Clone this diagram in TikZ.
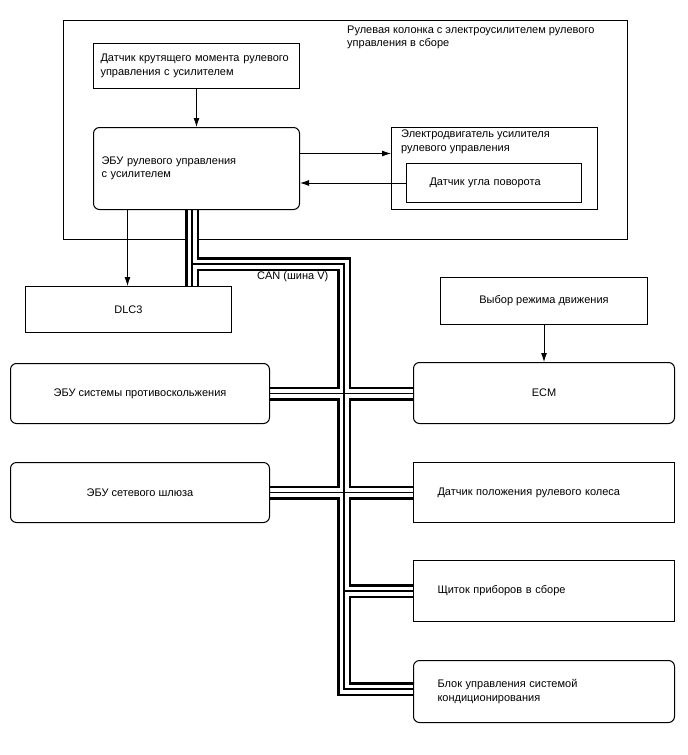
\documentclass[tikz,border=0pt]{standalone}
\usepackage{fontspec}
\setmainfont{Liberation Sans}
\usetikzlibrary{arrows.meta,backgrounds}

\tikzset{
  unit/.style={draw, line width=1pt, fill=white, inner sep=0pt, anchor=north west},
  ecubox/.style={unit, rounded corners=6pt},
  sig/.style={line width=0.9pt, -{Latex[length=9pt,width=6pt]}},
}

\begin{document}
\begin{tikzpicture}[x=1pt, y=-1pt, font=\fontsize{11}{13.5}\selectfont]
  \useasboundingbox (0,0) rectangle (688,755);
  % steering column assembly
  \node[anchor=west, align=left, inner sep=0pt] (coltitle) at (347,37.5) {Рулевая колонка с электроусилителем рулевого\\управления в сборе};
  \node[unit, minimum width=206pt, minimum height=45pt, text width=192pt, align=left] (torque) at (93,43) {Датчик крутящего момента рулевого\\управления с усилителем};
  \node[ecubox, minimum width=206pt, minimum height=82pt, text width=190pt, align=left] (epsecu) at (93,127) {ЭБУ рулевого управления\\с усилителем};
  \node[unit, minimum width=206pt, minimum height=82pt] (motor) at (391,127) {};
  \node[anchor=north west, align=left, inner sep=0pt] (motortxt) at (401,130) {Электродвигатель усилителя\\рулевого управления};
  \node[unit, minimum width=175pt, minimum height=39pt, text width=129pt, align=left] (angle) at (406,163) {Датчик угла поворота};
  % other units
  \node[unit, minimum width=206pt, minimum height=46pt] (dlc) at (25,286) {DLC3};
  \node[unit, minimum width=207pt, minimum height=47pt] (mode) at (440,277) {Выбор режима движения};
  \node[ecubox, minimum width=261pt, minimum height=61pt] (ecm) at (413,362) {ECM};
  \node[ecubox, minimum width=259pt, minimum height=60pt] (abs) at (10,363) {ЭБУ системы противоскольжения};
  \node[ecubox, minimum width=259pt, minimum height=60pt] (gateway) at (10,462) {ЭБУ сетевого шлюза};
  \node[unit, minimum width=261pt, minimum height=60pt, text width=213pt, align=left] (wheel) at (413,462) {Датчик положения рулевого колеса};
  \node[unit, minimum width=261pt, minimum height=61pt, text width=213pt, align=left] (meter) at (413,560) {Щиток приборов в сборе};
  \node[ecubox, minimum width=261pt, minimum height=62pt, text width=213pt, align=left] (aircon) at (413,660) {Блок управления системой\\кондиционирования};
  \node[anchor=west, inner sep=0pt] (canlbl) at (257,277) {CAN (шина V)};

  % CAN bus
  \coordinate (canA) at (192,264);
  \coordinate (canB) at (344,264);
  \coordinate (canC) at (344,689);
  \begin{scope}[on background layer]
    \draw[line width=1pt] (63,20) rectangle (627,239);
    \foreach \w/\c in {14/black, 9/white, 1.2/black}
      \draw[line width=\w pt, color=\c]
        (epsecu.south -| canA) -- (dlc.north -| canA)
        (canA) -- (canB) -- (canC) -- (aircon.west |- canC)
        (abs.east) -- (abs.east -| ecm.west)
        (gateway.east) -- (gateway.east -| wheel.west)
        (canB |- meter.west) -- (meter.west);
  \end{scope}

  % signals
  \draw[sig] (torque) -- (epsecu);
  \draw[sig] ([yshift=15pt]epsecu.east) -- ([yshift=15pt]epsecu.east -| motor.west);
  \draw[sig] (angle.west) -- (angle.west -| epsecu.east);
  \draw[sig] ([xshift=-69pt]epsecu.south) -- ([xshift=-69pt]epsecu.south |- dlc.north);
  \draw[sig] (mode) -- (ecm);
\end{tikzpicture}
\end{document}
